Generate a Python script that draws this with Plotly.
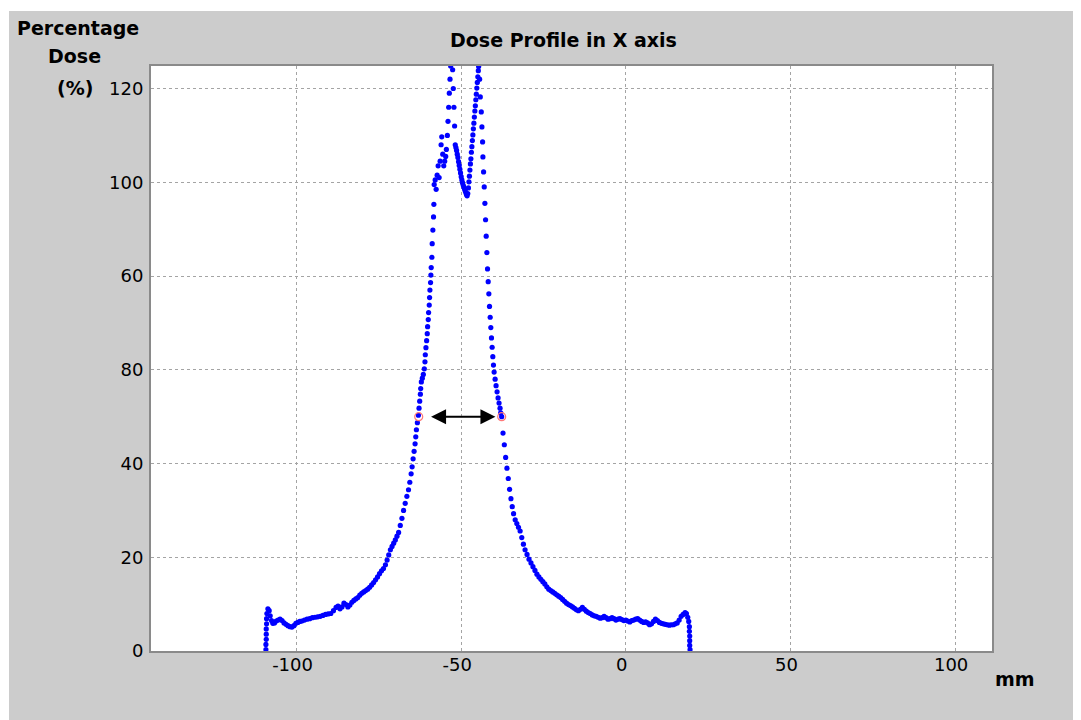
import plotly.graph_objects as go

# ---------------- data ----------------
left_tail_x = [-109.3, -109.3, -109.2, -109.2, -109.2, -109.1, -109.1, -109.0,
               -108.7, -108.3, -108.0, -107.6, -107.2, -106.7, -106.2, -105.6, -105.0, -104.4,
               -103.8, -103.2, -102.6, -102.0, -101.4, -100.8, -100.2, -99.6, -99.0, -98.4,
               -97.6, -96.8, -96.0, -95.2, -94.4, -93.6, -92.8, -92.0, -91.2, -90.4,
               -89.6, -88.8, -88.0, -87.4, -86.8, -86.2, -85.6, -85.0, -84.4, -83.8,
               -83.2, -82.6, -82.0, -81.4, -80.8, -80.2, -79.6, -79.0, -78.4, -77.8,
               -77.2, -76.6, -76.0, -75.4, -74.8, -74.2, -73.6, -73.0, -72.5, -72.0,
               -71.5, -71.0, -70.5, -70.0]
left_tail_y = [0.3, 1.4, 2.5, 3.6, 4.7, 5.8, 6.9, 8.0,
               9.0, 8.6, 7.5, 6.5, 5.9, 6.0, 6.4, 6.6, 6.8, 6.5,
               6.0, 5.7, 5.4, 5.2, 5.1, 5.4, 5.9, 6.1, 6.3, 6.4,
               6.6, 6.8, 6.9, 7.1, 7.2, 7.3, 7.4, 7.6, 7.8, 7.9,
               8.0, 8.6, 9.3, 9.6, 9.0, 9.4, 10.2, 9.9, 9.4, 9.8,
               10.4, 10.8, 11.1, 11.4, 11.9, 12.3, 12.6, 12.9, 13.2, 13.6,
               14.1, 14.6, 15.2, 15.8, 16.5, 17.1, 17.6, 18.4, 19.4, 20.5,
               21.6, 22.3, 23.0, 23.7]

left_edge_x = [-69.5, -69.0, -68.5, -68.0, -67.5, -67.0, -66.5, -66.0, -65.6, -65.2,
               -64.9, -64.6, -64.3, -64.0, -63.8, -63.6, -63.3, -63.0, -62.8, -62.6,
               -62.4, -62.3, -62.1, -61.8, -61.5, -61.2, -61.0, -60.9, -60.7, -60.5,
               -60.3, -60.2, -60.0, -59.9, -59.7, -59.6, -59.5, -59.3, -59.2, -59.1,
               -58.9, -58.8, -58.6, -58.4, -58.3]
left_edge_y = [24.5, 25.3, 26.8, 28.3, 30.0, 31.5, 33.0, 34.4, 36.0, 37.8,
               39.3, 41.0, 42.6, 44.2, 45.7, 47.2, 48.7, 50.3, 51.8, 53.3,
               54.8, 56.0, 57.4, 58.2, 59.0, 60.2, 61.7, 63.2, 64.7, 66.2,
               67.7, 69.2, 70.7, 72.2, 73.8, 75.4, 77.0, 78.6, 80.2, 81.8,
               84.0, 86.9, 89.8, 92.6, 95.3]

peak_x = [-58.2, -57.9, -57.6, -57.3, -57.0, -56.7, -56.4, -56.1, -55.9, -55.6,
          -55.3, -55.0, -54.7, -54.5, -54.2, -54.0, -53.8, -53.6, -53.4, -53.2,
          -52.6, -52.4, -52.2, -52.0, -51.8, -51.6, -51.4, -51.2, -51.0, -50.8,
          -50.6, -50.4, -50.2, -50.0, -49.8, -49.6, -49.4, -49.2, -49.0, -48.8,
          -48.6, -48.4, -48.2, -48.0, -47.8, -47.65, -47.5, -47.35, -47.2, -47.05,
          -46.9, -46.75, -46.6, -46.45, -46.3, -46.15, -46.0, -45.85, -45.7, -45.55,
          -45.4, -45.25, -45.1, -44.95, -44.8, -44.7]
peak_y = [99.5, 100.5, 98.5, 101.5, 103.5, 101.0, 104.5, 108.0, 109.7, 106.0,
          103.5, 104.5, 105.5, 107.0, 110.0, 113.0, 116.0, 119.0, 122.0, 124.8,
          124.0, 120.0, 116.0, 112.0, 108.0, 107.4, 106.8, 106.0, 105.3, 104.4,
          103.6, 102.8, 102.0, 101.2, 100.5, 99.9, 99.4, 99.0, 98.6, 98.2,
          97.8, 97.4, 97.1, 97.6, 98.8, 100.1, 101.3, 102.6, 103.9, 105.0,
          106.4, 107.6, 108.9, 110.1, 111.4, 112.6, 113.9, 115.2, 116.3, 117.6,
          118.8, 120.1, 121.3, 122.5, 123.8, 124.7]

right_edge_x = [-44.4, -44.2, -43.9, -43.7, -43.5, -43.4, -43.2, -43.0, -42.8, -42.6,
                -42.4, -42.2, -42.0, -41.8, -41.6, -41.4, -41.2, -41.0, -40.8, -40.6,
                -40.4, -40.2, -40.0, -39.7, -39.4, -39.1, -38.8, -38.5, -38.2, -38.0]
right_edge_y = [122.0, 118.2, 115.0, 111.8, 108.6, 105.4, 102.2, 99.0, 95.5, 92.0,
                88.5, 85.0, 81.5, 78.8, 76.2, 73.5, 71.2, 69.0, 66.8, 64.8,
                62.8, 61.0, 59.5, 58.0, 56.6, 55.3, 54.0, 52.9, 51.8, 50.8]

right_tail_x = [-37.7, -37.3, -36.9, -36.5, -36.1, -35.7, -35.3, -34.9, -34.5, -34.1,
                -33.6, -33.1, -32.6, -32.1, -31.6, -31.1, -30.6, -30.0, -29.4, -28.8,
                -28.2, -27.6, -27.0, -26.4, -25.8, -25.2, -24.6, -24.0, -23.4, -22.8,
                -22.2, -21.6, -21.0, -20.4, -19.8, -19.2, -18.6, -18.0, -17.4, -16.8,
                -16.2, -15.6, -15.0, -14.4, -13.8, -13.2, -12.6, -12.0, -11.4, -10.8,
                -10.2, -9.6, -9.0, -8.4, -7.8, -7.2, -6.6, -6.0, -5.4, -4.8,
                -4.2, -3.6, -3.0, -2.4, -1.8, -1.2, -0.6, 0.0, 0.6, 1.2,
                1.8, 2.4, 3.0, 3.6, 4.2, 4.8, 5.4, 6.0, 6.6, 7.2,
                7.8, 8.4, 9.0, 9.6, 10.2, 10.8, 11.4, 12.0, 12.6, 13.2,
                13.8, 14.4, 15.0, 15.6, 16.2, 16.8, 17.4, 18.0, 18.4, 18.8,
                19.1, 19.3, 19.3, 19.4, 19.4, 19.4, 19.5]
right_tail_y = [50.0, 46.5, 44.0, 41.3, 39.0, 36.8, 34.5, 32.5, 30.8, 29.3,
                28.0, 27.2, 26.4, 25.6, 24.2, 22.8, 21.6, 20.6, 19.6, 18.8,
                18.0, 17.2, 16.4, 15.8, 15.3, 14.8, 14.3, 13.7, 13.2, 12.9,
                12.6, 12.3, 12.0, 11.7, 11.4, 11.0, 10.6, 10.2, 9.9, 9.7,
                9.4, 9.1, 8.8, 8.6, 8.9, 9.3, 8.9, 8.5, 8.2, 8.0,
                7.7, 7.5, 7.4, 7.2, 7.0, 7.1, 7.4, 7.1, 6.8, 6.9,
                7.1, 6.9, 6.6, 6.8, 6.9, 6.7, 6.5, 6.6, 6.4, 6.2,
                6.5, 6.6, 6.8, 6.9, 6.6, 6.3, 6.1, 6.2, 6.0, 5.6,
                5.8, 6.3, 6.8, 6.5, 6.1, 5.9, 5.8, 5.7, 5.6, 5.5,
                5.6, 5.6, 5.8, 6.0, 6.6, 7.4, 7.8, 8.2, 8.0, 7.2,
                6.3, 5.2, 4.2, 3.2, 2.2, 1.2, 0.3]

# 50 % points (red circles) and the width arrow
fwhm_x = [-62.9, -37.7]
fwhm_y = [50, 50]
arrow_x = [-59.6, -39.6]
arrow_y = [50, 50]

# axis ticks (label text exactly as printed in the reference)
x_tick_vals = [-100, -50, 0, 50, 100]
x_tick_text = ["-100", "-50", "0", "50", "100"]
y_tick_vals = [0, 20, 40, 60, 80, 100, 120]
y_tick_text = ["0", "20", "40", "80", "60", "100", "120"]
x_range = [-144.2, 111.2]
y_range = [0, 124.8]

title_text = "Dose Profile in X axis"
y_title_lines = ["Percentage", "Dose", "(%)"]
x_unit = "mm"

# ---------------- figure ----------------
profile_x = left_tail_x + left_edge_x + peak_x + right_edge_x + right_tail_x
profile_y = left_tail_y + left_edge_y + peak_y + right_edge_y + right_tail_y
n = min(len(profile_x), len(profile_y))

# the page body has an 8px margin: the figure is sized and laid out to fit it
OFF = 8
W, H = 1081 - OFF, 720 - OFF
L, T = 151 - OFF, 66 - OFF
pw, ph = 841, 585
R, B = W - L - pw, H - T - ph


def px(xs):
    # screen x (window pixels) -> paper fraction
    return (xs - OFF - L) / pw


def py(ys):
    # screen y (window pixels) -> paper fraction
    return (T + ph - (ys - OFF)) / ph


fig = go.Figure()
fig.add_trace(go.Scatter(
    x=profile_x[:n], y=profile_y[:n], mode="markers",
    marker=dict(color="#0000ff", size=5.2, line=dict(width=0)),
    hoverinfo="skip"))
fig.add_trace(go.Scatter(
    x=fwhm_x, y=fwhm_y, mode="markers",
    marker=dict(symbol="circle-open", color="#ff7878", size=8, line=dict(width=1.2)),
    hoverinfo="skip"))

common = dict(showgrid=True, gridcolor="#a4a4a4", griddash="dot", gridwidth=1,
              zeroline=False, showline=True, mirror=True, linecolor="#8a8a8a", linewidth=2,
              tickfont=dict(family="DejaVu Sans", size=18, color="black"))

fig.update_layout(
    width=W, height=H,
    margin=dict(l=L, r=R, t=T, b=B, pad=0),
    paper_bgcolor="white", plot_bgcolor="white",
    showlegend=False,
    xaxis=dict(range=x_range, tickmode="array", tickvals=x_tick_vals, ticktext=x_tick_text,
               ticks="", **common),
    yaxis=dict(range=y_range, tickmode="array", tickvals=y_tick_vals, ticktext=y_tick_text,
               ticks="outside", ticklen=2, tickcolor="rgba(0,0,0,0)", **common),
    shapes=[
        dict(type="rect", xref="paper", yref="paper", x0=px(9), x1=px(1090), y0=py(730), y1=py(11),
             fillcolor="#cccccc", line=dict(width=0), layer="below"),
        dict(type="rect", xref="paper", yref="paper", x0=0, x1=1, y0=0, y1=1,
             fillcolor="white", line=dict(width=0), layer="below"),
    ],
)

try:
    fig.update_xaxes(ticklabelshift=-4)
except Exception:
    pass
try:
    fig.update_xaxes(ticklabelstandoff=-4)
except Exception:
    pass

bold = dict(family="DejaVu Sans", size=19, color="black")
annotations = [
    dict(text="<b>%s</b>" % title_text, x=px(563), y=py(40), xref="paper", yref="paper",
         showarrow=False, xanchor="center", yanchor="middle",
         font=dict(family="DejaVu Sans", size=19, color="black")),
    dict(text="<b>%s</b>" % y_title_lines[0], x=px(78), y=py(28), xref="paper", yref="paper",
         showarrow=False, xanchor="center", yanchor="middle", font=bold),
    dict(text="<b>%s</b>" % y_title_lines[1], x=px(74), y=py(56), xref="paper", yref="paper",
         showarrow=False, xanchor="center", yanchor="middle", font=bold),
    dict(text="<b>%s</b>" % y_title_lines[2], x=px(75), y=py(88), xref="paper", yref="paper",
         showarrow=False, xanchor="center", yanchor="middle", font=bold),
    dict(text="<b>%s</b>" % x_unit, x=px(1015), y=py(679), xref="paper", yref="paper",
         showarrow=False, xanchor="center", yanchor="middle", font=bold),
    dict(x=arrow_x[1], y=arrow_y[1], ax=arrow_x[0], ay=arrow_y[0],
         xref="x", yref="y", axref="x", ayref="y", text="", showarrow=True,
         arrowhead=2, startarrowhead=2, arrowside="end+start",
         arrowsize=1.5, startarrowsize=1.5, arrowwidth=2, arrowcolor="black",
         standoff=0, startstandoff=0),
]
fig.update_layout(annotations=annotations)

fig.write_html("out.html")
